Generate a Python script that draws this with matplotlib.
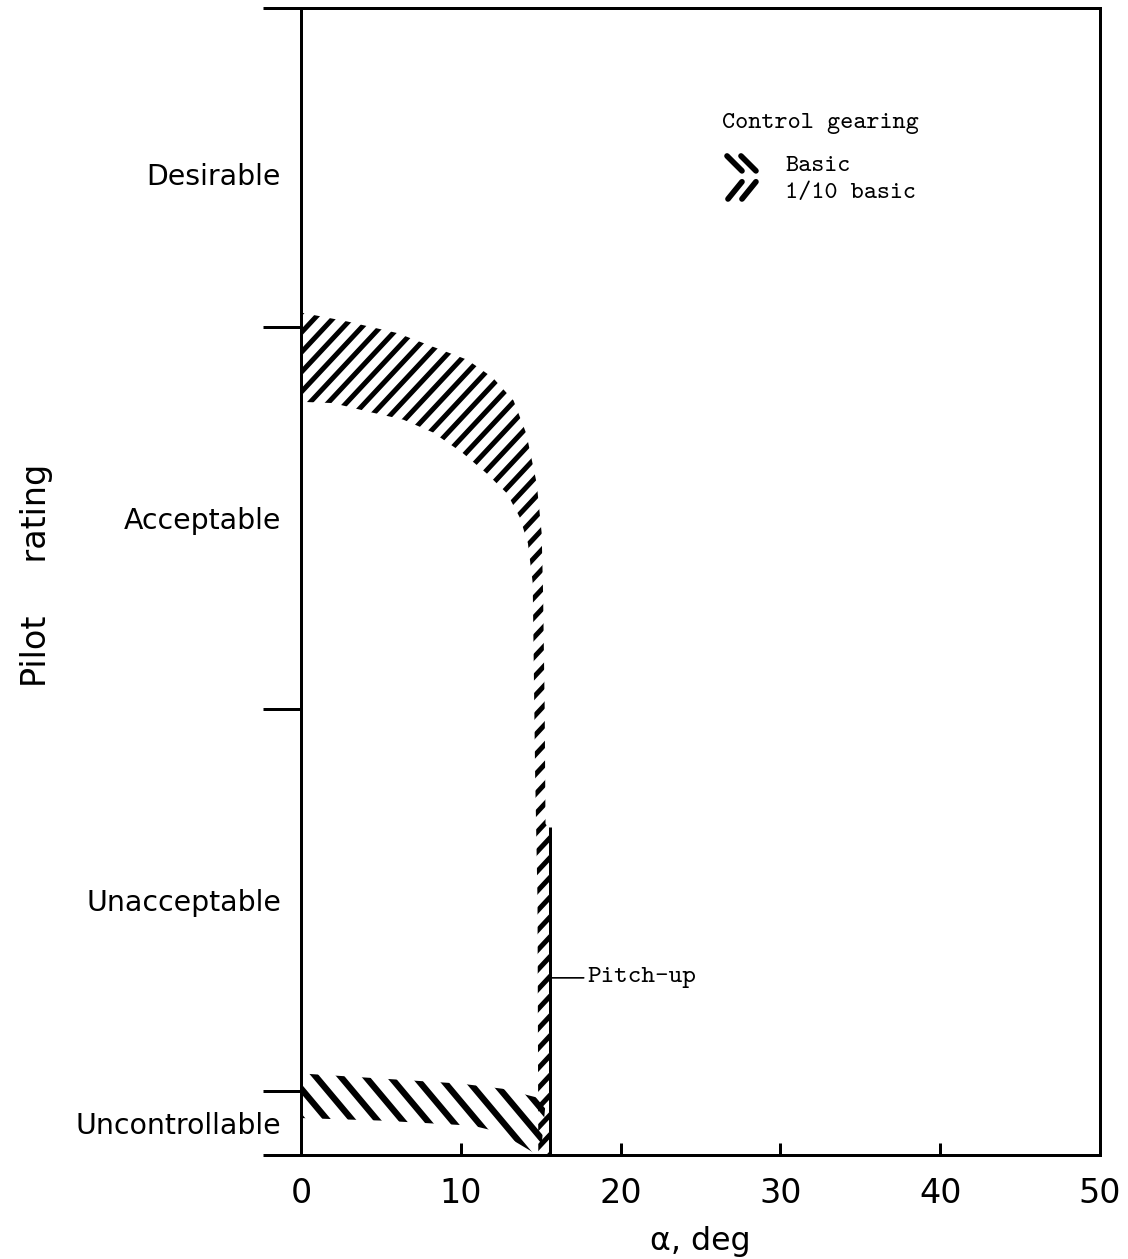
import numpy as np
import matplotlib
matplotlib.use("Agg")
import matplotlib.pyplot as plt
from matplotlib.patches import Polygon
from matplotlib.collections import LineCollection

# pilot rating bands vs angle of attack
rating_bounds = [1.0, 3.5, 6.5, 9.5, 10.0]
rating_names = ["Desirable", "Acceptable", "Unacceptable", "Uncontrollable"]
rating_name_pos = [2.3, 5.0, 8.0, 9.75]
xticks = [0, 10, 20, 30, 40, 50]

# 1/10 basic gearing band: upper/right edge then lower/left edge
tenth_upper_x = [0, 2.9, 6.0, 8.3, 10.4, 12.0, 13.3, 14.1, 14.75, 15.06, 15.15, 15.25, 15.3, 15.56, 15.56]
tenth_upper_y = [3.39, 3.46, 3.55, 3.66, 3.76, 3.90, 4.08, 4.34, 4.73, 5.12, 5.6, 6.5, 7.4, 7.45, 10.0]
tenth_lower_x = [0, 2.0, 4.3, 6.4, 8.25, 10.1, 11.6, 12.9, 13.7, 14.2, 14.5, 14.55, 14.65, 14.8, 14.85]
tenth_lower_y = [4.09, 4.10, 4.17, 4.23, 4.33, 4.49, 4.65, 4.81, 5.0, 5.2, 5.51, 6.0, 7.0, 8.0, 10.0]

# basic gearing band
basic_upper_x = [0, 5, 10, 12.6, 14.8, 15.3, 15.0]
basic_upper_y = [9.36, 9.40, 9.44, 9.48, 9.55, 9.6, 10.0]
basic_lower_x = [0, 5, 10.75, 12.4, 14.8]
basic_lower_y = [9.71, 9.73, 9.77, 9.82, 10.0]

pitchup_x = 15.56
pitchup_top = 7.43
pitchup_label_y = 8.61

DPI = 120
plt.rcParams['font.family'] = ['DejaVu Sans']
mono = ['cmtt10', 'DejaVu Sans Mono']


def hatch_fill(ax, xs, ys, spacing, angle, lw):
    # thick parallel strokes (spacing in pixels) clipped to the band outline
    pts = np.column_stack([xs, ys])
    poly = Polygon(pts, closed=True, facecolor='none', edgecolor='none')
    ax.add_patch(poly)
    pix = ax.transData.transform(pts)
    th = np.deg2rad(angle)
    d = np.array([np.cos(th), np.sin(th)])
    n = np.array([-np.sin(th), np.cos(th)])
    pn, pd = pix @ n, pix @ d
    inv = ax.transData.inverted()
    segs = []
    for o in np.arange(pn.min() - spacing, pn.max() + spacing, spacing):
        seg = np.array([o * n + (pd.min() - 10) * d, o * n + (pd.max() + 10) * d])
        segs.append(inv.transform(seg))
    lc = LineCollection(segs, colors='black', linewidths=lw, capstyle='butt')
    ax.add_collection(lc, autolim=False)
    lc.set_clip_path(poly)


fig = plt.figure(figsize=(1128 / DPI, 1259 / DPI), dpi=DPI)
ax = fig.add_axes([301 / 1128, 104 / 1259, 799 / 1128, 1147 / 1259])
ax.set_xlim(0, 50)
ax.set_ylim(10, 1)

hatch_fill(ax, tenth_upper_x + tenth_lower_x[::-1], tenth_upper_y + tenth_lower_y[::-1],
           spacing=13.5, angle=47, lw=3.0)
hatch_fill(ax, basic_upper_x + basic_lower_x[::-1], basic_upper_y + basic_lower_y[::-1],
           spacing=19, angle=-50, lw=3.8)

ax.plot([pitchup_x, pitchup_x], [pitchup_top, 10.0], color='black', lw=1.8,
        solid_capstyle='butt')
ax.annotate('Pitch-up', xy=(pitchup_x, pitchup_label_y), xytext=(17.9, pitchup_label_y),
            ha='left', va='center', fontsize=15.5, family=mono,
            arrowprops=dict(arrowstyle='-', lw=1.0, color='black', shrinkA=0, shrinkB=0))

ax.set_xticks(xticks)
ax.set_xticklabels([str(v) for v in xticks], fontsize=20)
ax.tick_params(axis='x', direction='in', length=7, width=1.8, pad=13)

ax.set_yticks(rating_bounds)
ax.set_yticklabels([])
ax.set_yticks(rating_name_pos, minor=True)
ax.set_yticklabels(rating_names, minor=True, fontsize=17)
ax.tick_params(axis='y', which='major', direction='out', length=23, width=1.8)
ax.tick_params(axis='y', which='minor', length=0, pad=12)

for sp in ax.spines.values():
    sp.set_linewidth(1.8)

ax.set_ylabel('Pilot     rating', fontsize=20)
ax.yaxis.set_label_coords(-0.31, 0.505)
ax.set_xlabel('α, deg', fontsize=19)
ax.xaxis.set_label_coords(0.5, -0.062)

# key: title, two stroke pairs, labels
ax.text(0.527, 0.8997, 'Control gearing', transform=ax.transAxes, ha='left', va='center',
        fontsize=15, family=mono)
for dx in (0.0, 0.0175):
    ax.plot([0.5332 + dx, 0.5519 + dx], [0.8710, 0.8580], transform=ax.transAxes,
            color='black', lw=3.4, solid_capstyle='round')
    ax.plot([0.5344 + dx, 0.5519 + dx], [0.8335, 0.8485], transform=ax.transAxes,
            color='black', lw=3.4, solid_capstyle='round')
ax.text(0.6058, 0.862, 'Basic', transform=ax.transAxes, ha='left', va='center',
        fontsize=15, family=mono)
ax.text(0.6058, 0.8387, '1/10 basic', transform=ax.transAxes, ha='left', va='center',
        fontsize=15, family=mono)

fig.savefig('out.png', dpi=DPI)
